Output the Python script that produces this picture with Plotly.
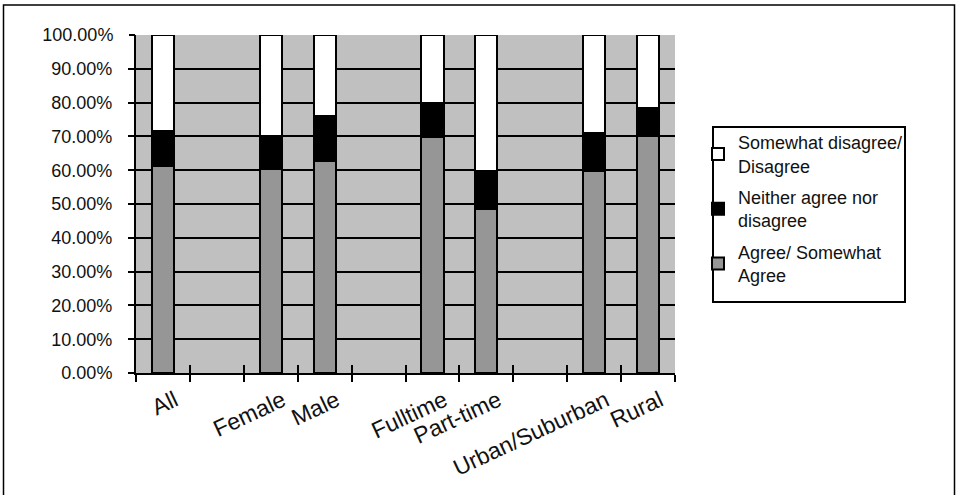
import plotly.graph_objects as go

categories = ["All", "", "Female", "Male", "", "Fulltime", "Part-time", "", "Urban/Suburban", "Rural"]
agree = [61.2, None, 60.4, 62.7, None, 69.8, 48.4, None, 59.8, 70.1]
neither = [10.4, None, 9.7, 13.4, None, 10.1, 11.4, None, 11.2, 8.3]
disagree = [28.4, None, 29.9, 23.9, None, 20.1, 40.2, None, 29.0, 21.6]
series_names = ["Agree/ Somewhat<br>Agree", "Neither agree nor<br>disagree", "Somewhat disagree/<br>Disagree"]
y_ticks = [0, 10, 20, 30, 40, 50, 60, 70, 80, 90, 100]
y_tick_labels = ["%.2f%%" % v for v in y_ticks]

FONT = "Liberation Sans, Arial, sans-serif"
x = list(range(len(categories)))
bounds = [i - 0.5 for i in range(len(categories) + 1)]
label_pos = [i + 0.22 for i, c in enumerate(categories) if c]
label_txt = [c for c in categories if c]

W, H = 958, 495
ML, MT, PW, PH = 136, 35, 539, 338


def px_x(p):
    return (p - ML) / PW


def px_y(p):
    return (MT + PH - p) / PH


fig = go.Figure()
colors = ["#969696", "#000000", "#ffffff"]
ranks = [3, 2, 1]
for k, (name, vals, col) in enumerate(zip(series_names, [agree, neither, disagree], colors)):
    fig.add_trace(go.Bar(x=x, y=vals, name=name, width=0.41, legendgroup="g%d" % k,
                         legendrank=ranks[k],
                         marker=dict(color=col, line=dict(color="#000000", width=2))))

fig.add_trace(go.Scatter(x=[0], y=[0], xaxis="x2", mode="markers",
                         marker=dict(opacity=0), showlegend=False, hoverinfo="skip"))
fig.add_trace(go.Scatter(x=[0], y=[0], xaxis="x3", mode="markers",
                         marker=dict(opacity=0), showlegend=False, hoverinfo="skip"))
fig.add_trace(go.Scatter(x=[0], y=[0], yaxis="y2", mode="markers",
                         marker=dict(opacity=0), showlegend=False, hoverinfo="skip"))

rng = [-0.5, len(categories) - 0.5]
yfont = dict(size=18, family=FONT, color="#111")
fig.update_layout(
    width=W, height=H,
    margin=dict(l=ML, r=W - ML - PW, t=MT, b=H - MT - PH, pad=0),
    paper_bgcolor="white", plot_bgcolor="#c0c0c0",
    barmode="stack", bargap=0,
    font=dict(family=FONT, color="#000000"),
    xaxis=dict(range=rng, tickmode="array", tickvals=bounds, ticktext=[""] * len(bounds),
               ticks="outside", ticklen=7, tickwidth=2, tickcolor="#000",
               showgrid=False, zeroline=False, showline=True, linecolor="#000", linewidth=2,
               showticklabels=False),
    xaxis2=dict(range=rng, overlaying="x", anchor="y", side="bottom", tickmode="array",
                tickvals=label_pos, ticktext=label_txt, tickangle=-25, ticks="",
                tickfont=dict(size=23, family=FONT, color="#111"), ticklabelstandoff=9,
                showgrid=False, zeroline=False, showline=False),
    xaxis3=dict(range=rng, overlaying="x", anchor="y", side="bottom", tickmode="array",
                tickvals=bounds, ticktext=[""] * len(bounds), ticks="inside", ticklen=8,
                tickwidth=2, tickcolor="#000", showgrid=False, zeroline=False,
                showline=False, showticklabels=False),
    yaxis=dict(range=[0, 100], tickmode="array", tickvals=y_ticks[:-1], ticktext=y_tick_labels[:-1],
               ticks="outside", ticklen=6, tickwidth=2, tickcolor="#000",
               showgrid=True, gridcolor="#000", gridwidth=2, zeroline=False,
               showline=True, linecolor="#000", linewidth=2,
               tickfont=yfont, ticklabelstandoff=12),
    yaxis2=dict(range=[0, 100], overlaying="y", anchor="x", side="left", tickmode="array",
                tickvals=y_ticks[-1:], ticktext=y_tick_labels[-1:],
                ticks="outside", ticklen=6, tickwidth=2, tickcolor="#000",
                showgrid=False, zeroline=False, showline=False,
                tickfont=yfont, ticklabelstandoff=12),
    legend=dict(x=px_x(698), y=px_y(124), xanchor="left", yanchor="top",
                traceorder="grouped", tracegroupgap=5,
                bgcolor="rgba(0,0,0,0)", borderwidth=0,
                font=dict(size=18, family=FONT, color="#111")),
    shapes=[
        dict(type="rect", xref="paper", yref="paper", x0=px_x(3.5), x1=px_x(954.5),
             y0=px_y(560), y1=px_y(5),
             line=dict(color="#000", width=1.5), fillcolor="rgba(0,0,0,0)", layer="below"),
        dict(type="rect", xref="paper", yref="paper", x0=px_x(713), x1=px_x(905),
             y0=px_y(302), y1=px_y(127),
             line=dict(color="#000", width=2), fillcolor="white", layer="above"),
    ],
)
fig.write_html("out.html", config={"displayModeBar": False},
               post_script="document.body.style.margin='0';document.body.style.overflow='hidden';")
